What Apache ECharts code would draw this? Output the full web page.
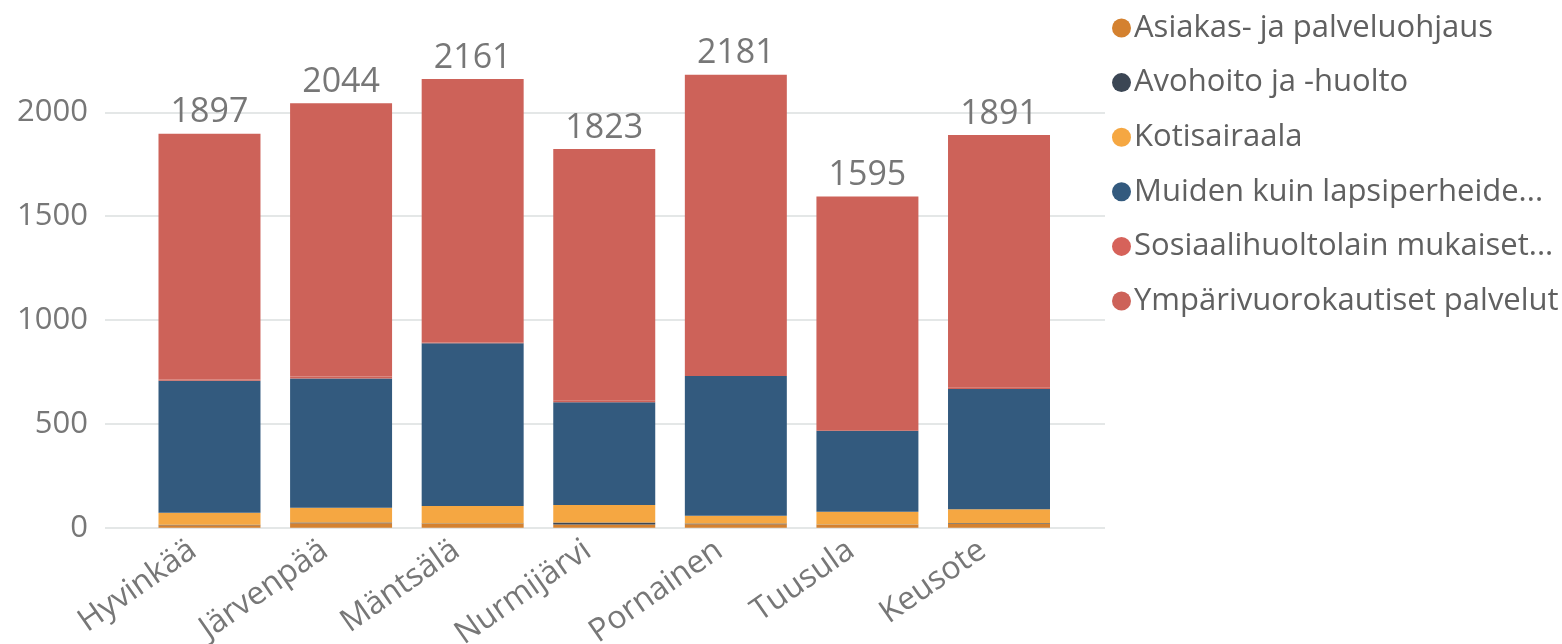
<!DOCTYPE html>
<html><head><meta charset="utf-8">
<script src="https://cdn.jsdelivr.net/npm/echarts@6/dist/echarts.min.js"></script>
<style>html,body{margin:0;padding:0;background:#fff}#c{width:1562px;height:644px}</style>
</head><body><div id="c"></div>
<script>
const categories = ['Hyvinkää','Järvenpää','Mäntsälä','Nurmijärvi','Pornainen','Tuusula','Keusote'];
const seriesNames = ['Asiakas- ja palveluohjaus','Avohoito ja -huolto','Kotisairaala','Muiden kuin lapsiperheide...','Sosiaalihuoltolain mukaiset...','Ympärivuorokautiset palvelut'];
const asiakas = [12, 22, 18, 16, 17, 14, 18];
const avohoito = [2, 3, 2, 9, 3, 2, 3];
const kotisairaala = [58, 71, 84, 84, 38, 61, 68];
const muiden = [636, 623, 784, 495, 672, 390, 579];
const sosiaali = [6, 9, 4, 7, 5, 3, 6];
const ymparivuorokautiset = [1183, 1316, 1269, 1212, 1446, 1125, 1217];
const yTicks = [0, 500, 1000, 1500, 2000];

const colors = ['#D4812F','#3B4654','#F5A742','#335A7E','#CD6259','#CD6259'];
const legendColors = ['#D4812F','#3B4654','#F5A742','#335A7E','#D6625A','#CD6259'];
const allData = [asiakas, avohoito, kotisairaala, muiden, sosiaali, ymparivuorokautiset];
const FONT = 'Open Sans';

const chart = echarts.init(document.getElementById('c'), null, {renderer:'canvas'});
const series = allData.map((d, i) => ({
  name: seriesNames[i], type: 'bar', stack: 'total', xAxisIndex: 1, yAxisIndex: 1,
  data: d, barWidth: '77.5%', itemStyle: {color: colors[i]},
  emphasis: {disabled: true},
  label: i === 5 ? {
    show: true, position: 'top', distance: 4, color: '#777', fontSize: 34, fontFamily: FONT,
    formatter: p => allData.reduce((s, arr) => s + arr[p.dataIndex], 0)
  } : {show: false}
}));

chart.setOption({
  animation: false,
  color: legendColors,
  grid: [
    {left: 105, right: 457, top: 112.3, bottom: 116.3, containLabel: false, outerBoundsMode: 'none'},
    {left: 143.7, right: 497.2, top: 70.8, bottom: 116.3, containLabel: false, outerBoundsMode: 'none'}
  ],
  legend: {
    orient: 'vertical', left: 1107, top: 7, itemGap: 22.6, itemWidth: 19, itemHeight: 19,
    icon: 'circle', data: seriesNames.map((n, i) => ({name: n, itemStyle: {color: legendColors[i]}})),
    textStyle: {fontSize: 31, fontFamily: FONT, color: '#606060', lineHeight: 32, padding: [0,0,0,-2]}
  },
  xAxis: [
    {type: 'category', gridIndex: 0, data: categories, show: false},
    {type: 'category', gridIndex: 1, data: categories,
     axisLine: {show: false}, axisTick: {show: false},
     axisLabel: {rotate: 35, fontSize: 32, fontFamily: FONT, color: '#777', margin: 8, padding: [0, 20, 0, 0], interval: 0}}
  ],
  yAxis: [
    {type: 'value', gridIndex: 0, min: yTicks[0], max: yTicks[yTicks.length-1], interval: 500,
     axisLine: {show: false}, axisTick: {show: false},
     axisLabel: {fontSize: 31, fontFamily: FONT, color: '#777', margin: 17, formatter: v => String(v)},
     splitLine: {show: true, lineStyle: {color: '#E4E7E7', width: 2}}},
    {type: 'value', gridIndex: 1, min: 0, max: 2200, show: false, splitLine: {show: false}}
  ],
  series: series
});
</script></body></html>
